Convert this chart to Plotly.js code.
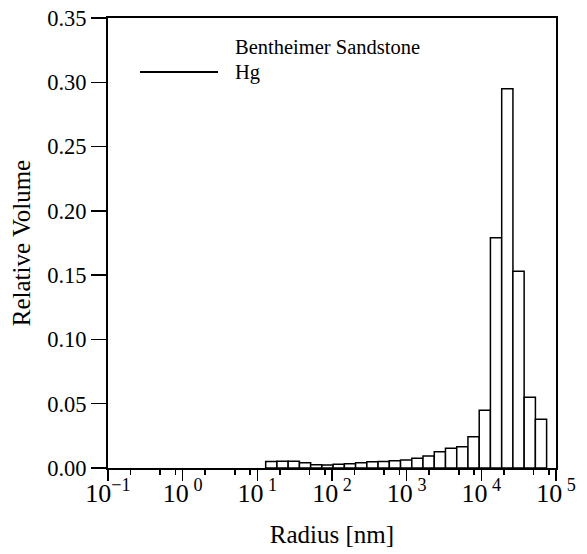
<!DOCTYPE html>
<html>
<head>
<meta charset="utf-8">
<script src="https://cdn.plot.ly/plotly-3.0.1.min.js"></script>
<style>html,body{margin:0;padding:0;background:#fff;}</style>
</head>
<body>
<div id="chart" style="width:587px;height:554px;"></div>
<script>
// Bin centres, as log10 of pore radius in nm (bins are a factor of sqrt(2) wide)
const log10RadiusNm = [1.187, 1.338, 1.488, 1.639, 1.789, 1.940, 2.090, 2.241, 2.391, 2.542,
                       2.692, 2.843, 2.993, 3.144, 3.294, 3.445, 3.595, 3.746, 3.896, 4.047,
                       4.197, 4.348, 4.498, 4.649, 4.799];
const relativeVolume = [0.0050, 0.0052, 0.0052, 0.0040, 0.0025, 0.0024, 0.0030, 0.0033, 0.0040, 0.0048,
                        0.0050, 0.0057, 0.0062, 0.0075, 0.0093, 0.0127, 0.0153, 0.0166, 0.0243, 0.0450,
                        0.1790, 0.2950, 0.1530, 0.0550, 0.0380];
const binWidthDecades = 0.1505;

const majorTickExponents = [-1, 0, 1, 2, 3, 4, 5];
const majorTickLabels = ['10<sup>\u22121</sup>', '10<sup>\u00a00</sup>', '10<sup>\u00a01</sup>',
                         '10<sup>\u00a02</sup>', '10<sup>\u00a03</sup>', '10<sup>\u00a04</sup>', '10<sup>\u00a05</sup>'];
const minorTickRadii = [0.2, 0.5, 0.8, 2, 5, 8, 20, 50, 80, 200, 500, 800,
                        2000, 5000, 8000, 20000, 50000, 80000];

const legendTitle = 'Bentheimer Sandstone';
const legendName = 'Hg';

const family = 'Liberation Serif, DejaVu Serif, serif';
const legendFont = {family: family, size: 20.5, color: '#000'};
const titleFont = {family: family, size: 25, color: '#000'};
const yTickFont = {family: family, size: 22.5, color: '#000'};
const xTickFont = {family: family, size: 26, color: '#000'};

const traces = [{
  type: 'bar',
  x: log10RadiusNm,
  y: relativeVolume,
  width: binWidthDecades,
  marker: {color: '#ffffff', line: {color: '#000000', width: 1.5}},
  showlegend: false,
  hoverinfo: 'x+y'
}];

const layout = {
  width: 587, height: 554,
  margin: {l: 108, r: 31, t: 18, b: 86},
  paper_bgcolor: '#fff', plot_bgcolor: '#fff',
  font: legendFont,
  showlegend: false,
  bargap: 0,
  xaxis: {
    type: 'linear', range: [-1, 5],
    tickmode: 'array', tickvals: majorTickExponents, ticktext: majorTickLabels,
    ticks: 'outside', ticklen: 1, tickwidth: 1.5, tickcolor: '#000',
    showline: true, linecolor: '#000', linewidth: 2, mirror: true,
    showgrid: false, zeroline: false,
    tickfont: xTickFont,
    title: {text: 'Radius [nm]', font: titleFont, standoff: 18},
    automargin: false
  },
  xaxis2: {
    type: 'linear', range: [-1, 5], overlaying: 'x', anchor: 'y', side: 'bottom',
    tickmode: 'array', tickvals: minorTickRadii.map(v => Math.log10(v)),
    ticks: 'outside', ticklen: 6, tickwidth: 1.5, tickcolor: '#000',
    showticklabels: false, showline: false, showgrid: false, zeroline: false
  },
  xaxis3: {
    type: 'linear', range: [-1, 5], overlaying: 'x', anchor: 'y', side: 'bottom',
    tickmode: 'array', tickvals: majorTickExponents,
    ticks: 'outside', ticklen: 12, tickwidth: 1.5, tickcolor: '#000',
    showticklabels: false, showline: false, showgrid: false, zeroline: false
  },
  yaxis: {
    range: [0, 0.35], dtick: 0.05, tick0: 0, tickformat: '.2f',
    ticks: 'outside', ticklen: 15, tickwidth: 1.5, tickcolor: '#000',
    showline: true, linecolor: '#000', linewidth: 2, mirror: true,
    showgrid: false, zeroline: false,
    tickfont: yTickFont,
    title: {text: 'Relative Volume', font: titleFont, standoff: 9},
    automargin: false
  },
  shapes: [{
    type: 'line', xref: 'paper', yref: 'paper',
    x0: 0.0714, x1: 0.2455, y0: 0.88, y1: 0.88,
    line: {color: '#000', width: 2}
  }],
  annotations: [
    {xref: 'paper', yref: 'paper', x: 0.279, y: 0.936, xanchor: 'left', yanchor: 'middle',
     text: legendTitle, showarrow: false, font: legendFont},
    {xref: 'paper', yref: 'paper', x: 0.279, y: 0.88, xanchor: 'left', yanchor: 'middle',
     text: legendName, showarrow: false, font: legendFont}
  ]
};

// invisible traces to activate the tick overlay axes
traces.push({type: 'scatter', x: [null], y: [null], xaxis: 'x2', yaxis: 'y', showlegend: false, hoverinfo: 'skip'});
traces.push({type: 'scatter', x: [null], y: [null], xaxis: 'x3', yaxis: 'y', showlegend: false, hoverinfo: 'skip'});

Plotly.newPlot('chart', traces, layout, {staticPlot: true, displayModeBar: false});
</script>
</body>
</html>
